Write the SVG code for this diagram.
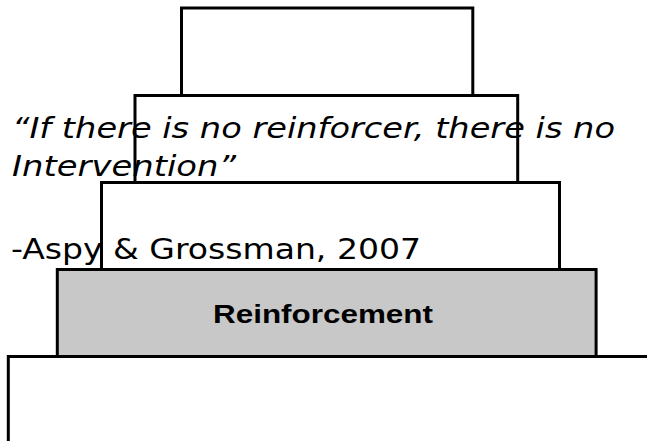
<svg xmlns="http://www.w3.org/2000/svg" width="647" height="441" viewBox="0 0 647 441">
  <style>
    .tier { fill: #ffffff; stroke: #000000; stroke-width: 3; }
    .tier.base { fill: #c8c8c8; }
    .quote { font-family: "DejaVu Sans", Verdana, sans-serif; font-size: 29px; fill: #000000; }
    .quote.em { font-style: italic; }
    .label { font-family: "Liberation Sans", Arial, sans-serif; font-size: 25px; font-weight: bold; fill: #000000; }
  </style>
  <rect width="647" height="441" fill="#ffffff"/>

  <!-- stacked tiers, top to bottom -->
  <g id="tier-1">
    <rect class="tier" x="181.5" y="8" width="291.3" height="87.5"/>
  </g>
  <g id="tier-2">
    <rect class="tier" x="135" y="95.5" width="382.7" height="87"/>
  </g>
  <g id="tier-3">
    <rect class="tier" x="101.5" y="182.5" width="458" height="87"/>
  </g>
  <g id="reinforcement">
    <rect class="tier base" x="57.3" y="269.5" width="538.8" height="87"/>
    <text class="label" x="213" y="323" textLength="220" lengthAdjust="spacingAndGlyphs">Reinforcement</text>
  </g>
  <g id="tier-base">
    <rect class="tier" x="8.3" y="356.5" width="700" height="200"/>
  </g>

  <!-- quotation laid over the tiers -->
  <g id="quote">
    <text class="quote em" x="12" y="138" textLength="603" lengthAdjust="spacingAndGlyphs">“If there is no reinforcer, there is no</text>
    <text class="quote em" x="12" y="176" textLength="224" lengthAdjust="spacingAndGlyphs">Intervention”</text>
    <text class="quote" x="11" y="259" textLength="410" lengthAdjust="spacingAndGlyphs">-Aspy &amp; Grossman, 2007</text>
  </g>
</svg>
